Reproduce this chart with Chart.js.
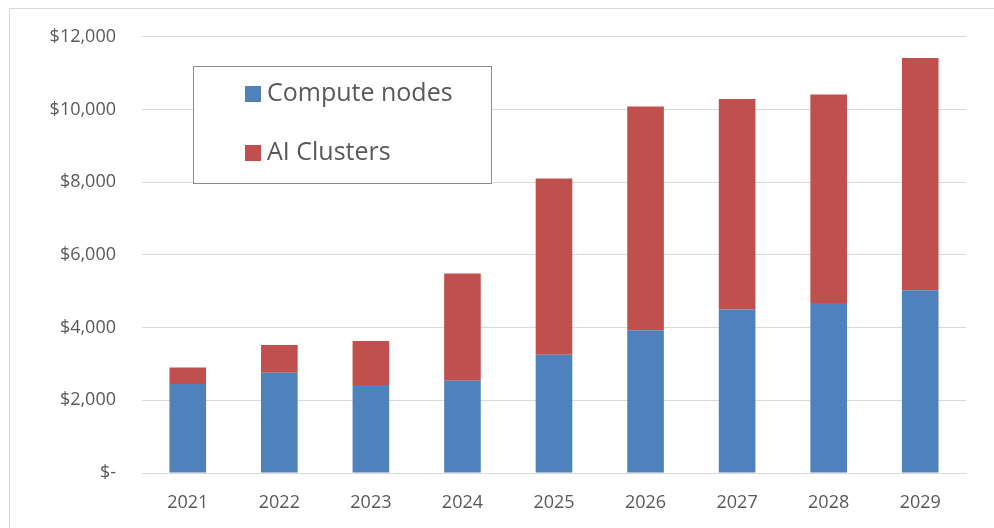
<!DOCTYPE html>
<html>
<head>
<meta charset="utf-8">
<script src="https://cdn.jsdelivr.net/npm/chart.js@4"></script>
<style>
  html, body { margin: 0; padding: 0; background: #fff; }
  #wrap { width: 994px; height: 528px; position: relative; }
</style>
</head>
<body>
<div id="wrap"><canvas id="myChart"></canvas></div>
<script>
/* stacked bar chart */

var years = ['2021', '2022', '2023', '2024', '2025', '2026', '2027', '2028', '2029'];
var computeNodes = [2450, 2760, 2420, 2540, 3250, 3930, 4500, 4680, 5030];
var aiClusters = [450, 760, 1210, 2950, 4850, 6150, 5790, 5730, 6390];
var yTicks = [0, 2000, 4000, 6000, 8000, 10000, 12000];

var textColor = '#595959';
var gridColor = '#d9d9d9';

// outer frame + legend box drawn inside the plot
var boxLegend = {
  id: 'boxLegend',
  beforeDraw: function (chart) {
    var c = chart.ctx;
    c.save();
    c.fillStyle = '#fff';
    c.fillRect(0, 0, chart.width, chart.height);
    c.strokeStyle = gridColor;
    c.lineWidth = 1;
    c.strokeRect(9.5, 8.5, 990, 540);
    c.restore();
  },
  afterDraw: function (chart) {
    var c = chart.ctx;
    c.save();
    c.fillStyle = '#fff';
    c.fillRect(193, 66, 299, 117);
    c.strokeStyle = '#8c8c8c';
    c.lineWidth = 1;
    c.strokeRect(193.5, 66.5, 298, 117);
    c.font = '25px "Open Sans"';
    c.textBaseline = 'middle';
    chart.data.datasets.forEach(function (ds, i) {
      var y = 94 + i * 59;
      c.fillStyle = ds.backgroundColor;
      c.fillRect(245, y - 8, 16, 16);
      c.fillStyle = textColor;
      c.fillText(ds.label, 267, y);
    });
    c.restore();
  }
};

var ctx = document.getElementById('myChart');

var myChart = new Chart(ctx, {
  type: 'bar',
  data: {
    labels: years,
    datasets: [
      {
        label: 'Compute nodes',
        data: computeNodes,
        backgroundColor: '#4f81bd',
        categoryPercentage: 1,
        barPercentage: 0.4,
      },
      {
        label: 'AI Clusters',
        data: aiClusters,
        backgroundColor: '#c0504d',
        categoryPercentage: 1,
        barPercentage: 0.4,
      },
    ],
  },
  options: {
    responsive: true,
    maintainAspectRatio: false,
    animation: false,
    layout: { padding: { left: 10, right: 28, top: 34, bottom: 0 } },
    plugins: {
      legend: { display: false },
      tooltip: { enabled: false },
    },
    scales: {
      x: {
        stacked: true,
        grid: { display: false, drawTicks: false },
        border: { color: gridColor },
        ticks: {
          color: textColor,
          font: { family: 'Open Sans', size: 18 },
          padding: 19,
        },
        afterFit: function (scale) { scale.height = 55; },
      },
      y: {
        stacked: true,
        min: 0,
        max: 12000,
        afterBuildTicks: function (scale) {
          scale.ticks = yTicks.map(function (v) { return { value: v }; });
        },
        grid: { color: gridColor, drawTicks: false },
        border: { display: false },
        ticks: {
          color: textColor,
          font: { family: 'Open Sans', size: 18 },
          padding: 26,
          callback: function (v) {
            return v === 0 ? '$-' : '$' + v.toLocaleString('en-US');
          },
        },
        afterFit: function (scale) { scale.width = 132; },
      },
    },
  },
  plugins: [boxLegend],
});
</script>
</body>
</html>
